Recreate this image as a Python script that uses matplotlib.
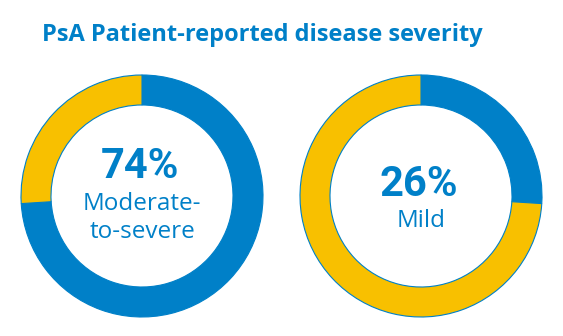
import matplotlib.pyplot as plt

# Patient-reported severity shares (%)
severity_labels = ["Moderate-\nto-severe", "Mild"]
severity_pct = [74, 26]

BLUE = "#0080C8"
YELLOW = "#F8C000"

W, H = 563, 336
fig = plt.figure(figsize=(W / 100, H / 100), dpi=100)
ax = fig.add_axes([0, 0, 1, 1])

centers = [(142, H - 196), (421, H - 196)]
outer_r = 121
ring_w = 30

for (cx, cy), label, pct in zip(centers, severity_labels, severity_pct):
    rest = 100 - pct
    ax.pie([pct, rest], colors=[BLUE, YELLOW], center=(cx, cy), radius=outer_r,
           startangle=90, counterclock=False,
           wedgeprops=dict(width=ring_w, edgecolor=BLUE, linewidth=0.8))
    two_line = "\n" in label
    big_y = cy + (30 if two_line else 12)
    ax.text(cx - 2, big_y, f"{pct}%", ha="center", va="center",
            fontsize=30, fontweight="bold", color=BLUE,
            family=["Roboto", "DejaVu Sans"])
    lab_y = cy - (22 if two_line else 25)
    ax.text(cx, lab_y, label, ha="center", va="center", fontsize=17.5,
            color=BLUE, family=["Open Sans", "DejaVu Sans"], linespacing=1.2)

ax.set_xlim(0, W)
ax.set_ylim(0, H)
ax.set_aspect("equal")
ax.axis("off")

fig.text(262 / W, 1 - 35 / H, "PsA Patient-reported disease severity",
         ha="center", va="center", fontsize=17, fontweight="bold",
         color=BLUE, family=["Open Sans", "DejaVu Sans"])

fig.savefig("out.png", dpi=100)
